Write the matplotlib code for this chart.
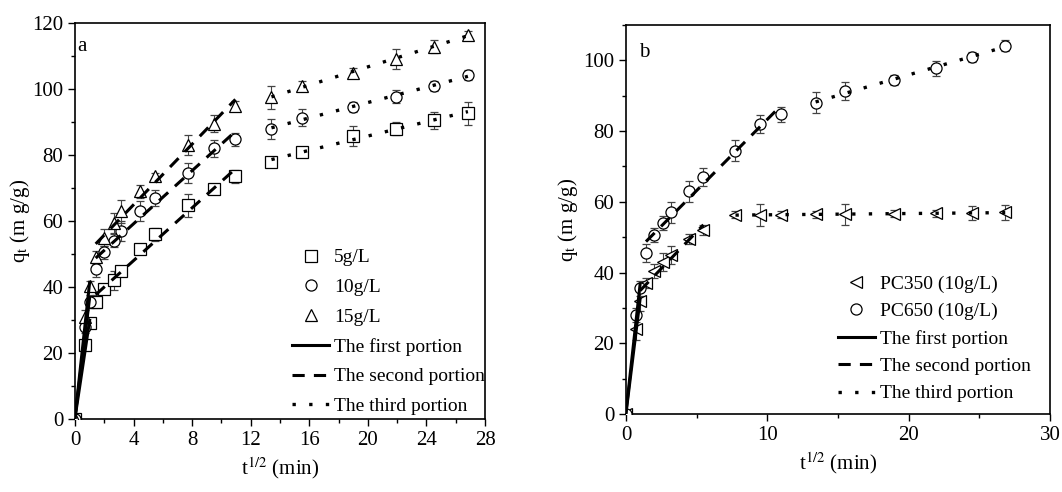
import numpy as np
import matplotlib
matplotlib.use('Agg')
import matplotlib.pyplot as plt
from matplotlib.lines import Line2D
from matplotlib.ticker import MultipleLocator

plt.rcParams['font.family'] = ['Liberation Serif', 'DejaVu Serif']
plt.rcParams['mathtext.fontset'] = 'stix'

# t^(1/2) in min^(1/2)
t_half = [0, 0.707, 1.0, 1.414, 2.0, 2.646, 3.162, 4.472, 5.477, 7.746,
          9.487, 10.954, 13.416, 15.492, 18.974, 21.909, 24.495, 26.833]

# panel a: dose
q_5 = [0, 22.5, 29, 35.5, 39.5, 42, 45, 51.5, 56, 64.7, 69.7, 73.5,
       78, 80.8, 85.7, 88, 90.5, 92.7]
e_5 = [0.5, 1.5, 1.5, 2, 1.5, 3, 1.5, 1, 2, 3.5, 1.5, 2, 1, 1.5, 3, 2, 2.5, 3.5]
q_10 = [0, 28, 35.5, 45.5, 50.5, 54, 57, 63, 67, 74.5, 82, 84.7,
        88, 91.3, 94.5, 97.7, 101, 104.2]
e_10 = [0.5, 2, 2, 2.5, 2, 2, 3, 3, 2.5, 3, 2.5, 2, 3, 2.5, 1.5, 2, 1.5, 1.5]
q_15 = [0, 31, 40.3, 49, 55, 59.5, 63, 69, 73.5, 83, 89.5, 95,
        97.5, 101, 105, 109, 112.8, 116.5]
e_15 = [0.5, 2, 1.5, 2, 2.5, 3, 3.5, 2, 1, 3, 2.5, 1.5, 3.5, 1.5, 1.5, 3, 2, 1]

# panel b: carbon type
q_pc350 = [0, 24, 32, 37, 40.5, 43, 45, 49.5, 52, 56.3, 56.3, 56.3,
           56.5, 56.5, 56.6, 56.8, 56.8, 57]
e_pc350 = [0.5, 3, 3, 1.5, 2, 2.5, 2.5, 1.5, 1.5, 1, 3, 1, 1, 3, 1, 1, 2, 2]
q_pc650 = q_10
e_pc650 = e_10

W, H = 1062, 492
fig = plt.figure(figsize=(W / 100, H / 100), dpi=100)
ax_a = fig.add_axes([75 / W, 1 - 419 / H, 410 / W, 396 / H])
ax_b = fig.add_axes([626 / W, 1 - 414 / H, 424 / W, 389 / H])

FS = 15
LFS = 14
mk = dict(mfc='white', mec='black', mew=0.9, ms=8, ecolor='#444444',
          elinewidth=0.8, capsize=3, capthick=0.8, linestyle='none', zorder=3)
portion = {
    'first': dict(color='black', lw=2.2, linestyle='-'),
    'second': dict(color='black', lw=2.2, linestyle=(0, (4, 3))),
    'third': dict(color='black', lw=2.4, linestyle=(0, (1, 4))),
}


def fit_line(ax, x, y, i0, i1, style):
    xs = np.array(x[i0:i1 + 1])
    ys = np.array(y[i0:i1 + 1])
    k, b = np.polyfit(xs, ys, 1)
    xx = np.array([xs[0], xs[-1]])
    ax.plot(xx, k * xx + b, zorder=4, **portion[style])


def style_axes(ax, pad):
    for s in ax.spines.values():
        s.set_linewidth(1.2)
    ax.tick_params(which='both', direction='out', labelsize=FS, width=1.0)
    ax.tick_params(which='major', length=5)
    ax.tick_params(which='minor', length=3)
    ax.set_xlabel('t$^{1/2}$ (min)', fontsize=FS)
    ax.set_ylabel('q$_{\\mathrm{t}}$ (m g/g)', fontsize=FS, labelpad=pad)


def mhandle(m):
    return Line2D([], [], marker=m, ls='none', mfc='white', mec='black',
                  ms=8, mew=0.9)


# ---- panel a
for q, e, m in [(q_5, e_5, 's'), (q_10, e_10, 'o'), (q_15, e_15, '^')]:
    ax_a.errorbar(t_half, q, yerr=e, marker=m, **mk)
    fit_line(ax_a, t_half, q, 0, 2, 'first')
    fit_line(ax_a, t_half, q, 3, 11, 'second')
    fit_line(ax_a, t_half, q, 12, 17, 'third')

ax_a.set_xlim(0, 28)
ax_a.set_ylim(0, 120)
ax_a.xaxis.set_major_locator(MultipleLocator(4))
ax_a.xaxis.set_minor_locator(MultipleLocator(2))
ax_a.yaxis.set_major_locator(MultipleLocator(20))
ax_a.yaxis.set_minor_locator(MultipleLocator(10))
style_axes(ax_a, 0)
ax_a.text(0.005, 0.965, 'a', transform=ax_a.transAxes, fontsize=FS, va='top')

h_a = [mhandle('s'), mhandle('o'), mhandle('^'),
       Line2D([], [], **portion['first']),
       Line2D([], [], **portion['second']),
       Line2D([], [], **portion['third'])]
lab_a = ['5g/L', '10g/L', '15g/L', 'The first portion', 'The second portion',
         'The third portion']
ax_a.legend(h_a, lab_a, loc='lower left', frameon=False, fontsize=LFS,
            handlelength=1.9, handletextpad=0.25, labelspacing=0.62,
            borderpad=0, borderaxespad=0, bbox_to_anchor=(0.53, 0.01))

# ---- panel b
ax_b.errorbar(t_half, q_pc350, yerr=e_pc350, marker='<', **mk)
ax_b.errorbar(t_half, q_pc650, yerr=e_pc650, marker='o', **mk)
fit_line(ax_b, t_half, q_pc350, 0, 2, 'first')
fit_line(ax_b, t_half, q_pc350, 2, 8, 'second')
fit_line(ax_b, t_half, q_pc350, 9, 17, 'third')
fit_line(ax_b, t_half, q_pc650, 0, 2, 'first')
fit_line(ax_b, t_half, q_pc650, 3, 11, 'second')
fit_line(ax_b, t_half, q_pc650, 12, 17, 'third')

ax_b.set_xlim(0, 30)
ax_b.set_ylim(0, 110)
ax_b.xaxis.set_major_locator(MultipleLocator(10))
ax_b.xaxis.set_minor_locator(MultipleLocator(5))
ax_b.yaxis.set_major_locator(MultipleLocator(20))
ax_b.yaxis.set_minor_locator(MultipleLocator(10))
style_axes(ax_b, 2)
ax_b.text(0.03, 0.955, 'b', transform=ax_b.transAxes, fontsize=FS, va='top')

h_b = [mhandle('<'), mhandle('o'),
       Line2D([], [], **portion['first']),
       Line2D([], [], **portion['second']),
       Line2D([], [], **portion['third'])]
lab_b = ['PC350 (10g/L)', 'PC650 (10g/L)', 'The first portion',
         'The second portion', 'The third portion']
ax_b.legend(h_b, lab_b, loc='lower left', frameon=False, fontsize=LFS,
            handlelength=1.9, handletextpad=0.25, labelspacing=0.5,
            borderpad=0, borderaxespad=0, bbox_to_anchor=(0.5, 0.03))

fig.savefig('out.png', dpi=100)
